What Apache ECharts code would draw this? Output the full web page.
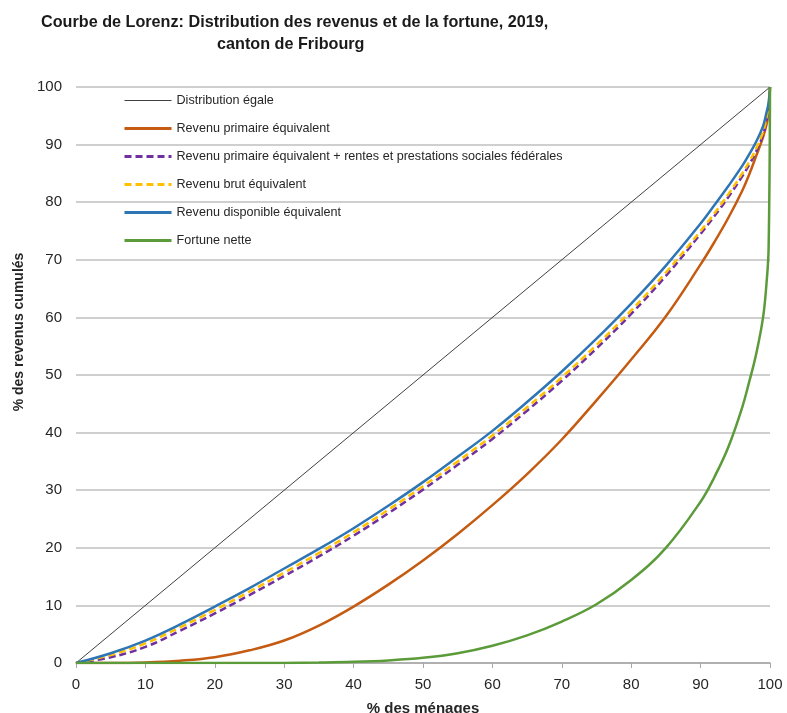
<!DOCTYPE html>
<html>
<head>
<meta charset="utf-8">
<script src="https://cdn.jsdelivr.net/npm/echarts@6/dist/echarts.min.js"></script>
<style>html,body{margin:0;padding:0;background:#fff}#c{width:787px;height:713px}</style>
</head>
<body>
<div id="c"></div>
<script>
// Shared x positions (% des ménages)
const xMenages = [0,5,10,15,20,25,30,35,40,45,50,55,60,65,70,75,80,85,90,92,94,96,97,98,99,99.5,99.8,100];
// Egal distribution endpoints
const egalX = [0,100];
const egalY = [0,100];
// Series values (% des revenus cumulés)
const revenuPrimaire = [0,0,0.1,0.4,1.0,2.2,3.9,6.5,9.8,13.6,17.8,22.4,27.4,32.8,38.8,45.6,52.7,60.2,69.2,73.1,77.3,82.0,84.8,88.0,91.3,93.5,95.5,100];
const revenuPrimaireRentes = [0,1.0,2.8,5.6,8.6,11.8,15.1,18.5,22.1,26.0,30.1,34.4,38.9,43.8,49.0,54.6,60.6,67.2,74.5,77.6,80.9,84.5,86.5,88.8,91.7,94.3,96.5,100];
const revenuBrut = [0,1.4,3.4,6.2,9.2,12.4,15.7,19.1,22.7,26.6,30.7,35.0,39.5,44.4,49.6,55.2,61.2,67.8,75.0,78.1,81.4,85.0,87.0,89.3,92.2,94.7,96.8,100];
const revenuDisponible = [0,1.7,3.9,6.7,9.8,13.0,16.4,19.8,23.4,27.3,31.4,35.8,40.3,45.3,50.6,56.3,62.4,69.0,76.3,79.5,82.8,86.3,88.3,90.5,93.2,95.6,97.3,100];
const fortuneNette = [0,0,0,0,0,0,0.02,0.08,0.2,0.45,0.9,1.7,3.0,4.8,7.2,10.2,14.4,20.0,28.0,32.3,37.5,44.4,48.8,53.6,60.0,66.0,72.0,100];

const names = ['Distribution égale','Revenu primaire équivalent','Revenu primaire équivalent + rentes et prestations sociales fédérales','Revenu brut équivalent','Revenu disponible équivalent','Fortune nette'];

function pairs(xs, ys){ return xs.map((x,i)=>[x, ys[i]]); }

const FONT = 'Liberation Sans, Arial, sans-serif';
const chart = echarts.init(document.getElementById('c'), null, {renderer:'canvas'});
const lineSeries = (name, ys, color, dashed) => ({
  name, type:'line', data: pairs(xMenages, ys), showSymbol:false, symbol:'none',
  smooth:0.4,
  lineStyle:{color, width:2.5, type: dashed ? [7,4] : 'solid'},
  itemStyle:{color}
});
chart.setOption({
  animation:false,
  backgroundColor:'#fff',
  title:[
    {text:'Courbe de Lorenz: Distribution des revenus et de la fortune, 2019,', left:36, top:10,
     textStyle:{fontFamily:FONT, fontWeight:'bold', fontSize:16.2, color:'#1a1a1a'}},
    {text:'canton de Fribourg', left:212, top:32,
     textStyle:{fontFamily:FONT, fontWeight:'bold', fontSize:16.2, color:'#1a1a1a'}}
  ],
  legend:{
    orient:'vertical', left:118, top:89, itemWidth:47, itemHeight:12, itemGap:15,
    itemStyle:{opacity:0},
    textStyle:{fontFamily:FONT, fontSize:12.6, color:'#262626'},
    data: names.map((n,i)=>({name:n, lineStyle:{width: i===0 ? 1 : 3}}))
  },
  grid:{left:76, right:17, top:87, bottom:50, outerBoundsMode:'none', containLabel:false},
  xAxis:{
    type:'value', min:0, max:100, interval:10,
    name:'% des ménages', nameLocation:'middle', nameGap:38,
    nameTextStyle:{fontFamily:FONT, fontWeight:'bold', fontSize:15, color:'#262626'},
    axisLine:{show:true, lineStyle:{color:'#a6a6a6', width:1.5}},
    axisTick:{show:true, length:5, lineStyle:{color:'#a6a6a6'}},
    axisLabel:{fontFamily:FONT, fontSize:15, color:'#262626', margin:14},
    splitLine:{show:false}
  },
  yAxis:{
    type:'value', min:0, max:100, interval:10,
    name:'% des revenus cumulés', nameLocation:'middle', nameGap:44, nameRotate:90,
    nameTextStyle:{fontFamily:FONT, fontWeight:'bold', fontSize:14, color:'#262626', padding:[0,0,0,86]},
    axisLine:{show:false},
    axisTick:{show:false},
    axisLabel:{fontFamily:FONT, fontSize:15, color:'#262626', margin:14},
    splitLine:{show:true, lineStyle:{color:'#bfbfbf', width:1.5}}
  },
  series:[
    {name:names[0], type:'line', data:pairs(egalX, egalY), showSymbol:false, symbol:'none',
     lineStyle:{color:'#404040', width:1}, itemStyle:{color:'#404040'}},
    lineSeries(names[1], revenuPrimaire, '#c55a11', false),
    lineSeries(names[2], revenuPrimaireRentes, '#7030a0', true),
    lineSeries(names[3], revenuBrut, '#ffc000', true),
    lineSeries(names[4], revenuDisponible, '#2e75b6', false),
    lineSeries(names[5], fortuneNette, '#5b9b3a', false)
  ]
});
</script>
</body>
</html>
